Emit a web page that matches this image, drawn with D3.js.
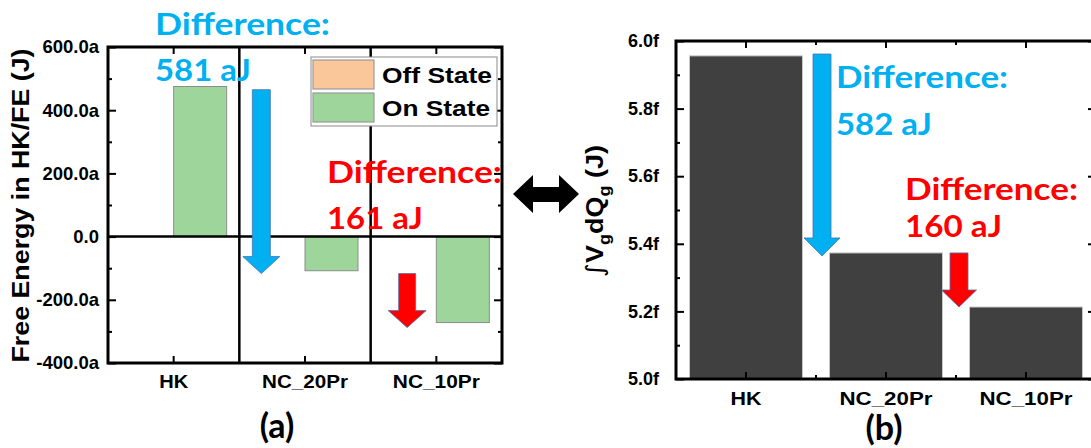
<!DOCTYPE html>
<html><head><meta charset="utf-8">
<script src="https://cdn.jsdelivr.net/npm/d3@7"></script>
<style>
html,body{margin:0;padding:0;background:#fff;}
svg{display:block;}
text{font-family:"Liberation Sans",Arial,sans-serif;font-weight:bold;}
.cal{font-family:Lato,"Open Sans",sans-serif;font-weight:bold;}
</style></head>
<body>
<svg id="chart" width="1091" height="448"></svg>
<script>
// ---------- data ----------
const categories = ["HK", "NC_20Pr", "NC_10Pr"];
const seriesNames = ["Off State", "On State"];
const offState = [0, 0, 0];
const onState = [475, -108, -272];
const leftTicks = [-400, -200, 0, 200, 400, 600];
const leftTickLabels = ["-400.0a", "-200.0a", "0.0", "200.0a", "400.0a", "600.0a"];
const gateEnergy = [5.956, 5.373, 5.213];
const rightTicks = [5.0, 5.2, 5.4, 5.6, 5.8, 6.0];
const rightTickLabels = ["5.0f", "5.2f", "5.4f", "5.6f", "5.8f", "6.0f"];
const leftDiffs = ["581 aJ", "161 aJ"];
const rightDiffs = ["582 aJ", "160 aJ"];
const leftArrowFrom = [465, -117];
const leftArrowTo = [-117, -288];
const rightArrowFrom = [5.9615, 5.373];
const rightArrowTo = [5.364, 5.213];

const BLUE = "#00B0F0", RED = "#FF0000";
const svg = d3.select("#chart");

function fit(sel, w) { sel.attr("textLength", w).attr("lengthAdjust", "spacingAndGlyphs"); }

function arrow(g, xc, y1, y2, shaftW, headW, headH, fill) {
  const p = d3.path();
  const yh = y2 - headH;
  p.moveTo(xc - shaftW / 2, y1); p.lineTo(xc + shaftW / 2, y1);
  p.lineTo(xc + shaftW / 2, yh); p.lineTo(xc + headW / 2, yh);
  p.lineTo(xc, y2); p.lineTo(xc - headW / 2, yh);
  p.lineTo(xc - shaftW / 2, yh); p.closePath();
  g.append("path").attr("d", p.toString()).attr("fill", fill)
    .attr("stroke", "#4A72B0").attr("stroke-width", 0.8);
}

// ---------- panel (a) ----------
{
  const L = 108, R = 502, T = 47, B = 363;
  const y = d3.scaleLinear().domain([-400, 600]).range([B, T]);
  const x0 = d3.scaleBand().domain(categories).range([L, R]).paddingInner(0.193).paddingOuter(0.0965);
  const x1 = d3.scaleBand().domain(seriesNames).range([0, x0.bandwidth()]);
  const g = svg.append("g");
  const colors = { "Off State": "#F9C79A", "On State": "#9ED59B" };
  const rows = categories.map((c, i) => ({ c, vals: [{ s: "Off State", v: offState[i] }, { s: "On State", v: onState[i] }] }));
  const grp = g.selectAll("g.cat").data(rows).join("g").attr("transform", d => `translate(${x0(d.c)},0)`);
  grp.selectAll("rect").data(d => d.vals.filter(v => v.v !== 0)).join("rect")
    .attr("x", d => x1(d.s)).attr("width", x1.bandwidth())
    .attr("y", d => y(Math.max(0, d.v))).attr("height", d => Math.abs(y(d.v) - y(0)))
    .attr("fill", d => colors[d.s]).attr("stroke", "#8c8c8c").attr("stroke-width", 1);

  g.append("line").attr("x1", L).attr("x2", R).attr("y1", y(0)).attr("y2", y(0)).attr("stroke", "#000").attr("stroke-width", 2.5);
  categories.slice(1).forEach(c => {
    const bx = x0(c) - x0.step() * x0.paddingInner() / 2;
    g.append("line").attr("x1", bx).attr("x2", bx).attr("y1", T).attr("y2", B).attr("stroke", "#000").attr("stroke-width", 2.5);
  });

  const ax = g.append("g").attr("transform", `translate(${L},0)`)
    .call(d3.axisLeft(y).tickValues(leftTicks).tickFormat((d, i) => leftTickLabels[i]).tickSize(-8).tickPadding(9));
  ax.selectAll("text").style("font-size", "18.5px").attr("fill", "#000").attr("font-family", "Liberation Sans");
  g.append("g").attr("transform", `translate(${L},0)`).call(d3.axisLeft(y).tickValues(d3.range(-300, 600, 200)).tickFormat("").tickSize(-4));
  g.append("g").attr("transform", `translate(${R},0)`).call(d3.axisRight(y).tickValues(leftTicks).tickFormat("").tickSize(-8));
  g.append("g").attr("transform", `translate(${R},0)`).call(d3.axisRight(y).tickValues(d3.range(-300, 600, 200)).tickFormat("").tickSize(-4));
  g.append("g").attr("transform", `translate(0,${T})`).call(d3.axisTop(x0).tickFormat("").tickSize(-7));
  const bx = g.append("g").attr("transform", `translate(0,${B})`).call(d3.axisBottom(x0).tickSize(-7).tickPadding(12));
  const lw = { "HK": 29, "NC_20Pr": 86, "NC_10Pr": 87 };
  bx.selectAll("text").style("font-size", "19px").attr("fill", "#000").each(function (d) { fit(d3.select(this), lw[d]); });
  g.selectAll(".domain").remove();
  g.selectAll(".tick line").attr("stroke", "#000").attr("stroke-width", 2);
  g.append("rect").attr("x", L).attr("y", T).attr("width", R - L).attr("height", B - T)
    .attr("fill", "none").attr("stroke", "#000").attr("stroke-width", 3);

  const yt = g.append("text").attr("transform", `translate(29,${(T + B) / 2 + 0.5}) rotate(-90)`)
    .attr("text-anchor", "middle").style("font-size", "23.5px").text("Free Energy in HK/FE (J)");
  fit(yt, 314);

  const lg = g.append("g");
  lg.append("rect").attr("x", 311).attr("y", 57).attr("width", 186).attr("height", 69).attr("fill", "#fff").attr("stroke", "#8a8a8a").attr("stroke-width", 1);
  seriesNames.forEach((s, i) => {
    lg.append("rect").attr("x", 313).attr("y", 60 + i * 33).attr("width", 61).attr("height", 29)
      .attr("fill", colors[s]).attr("stroke", "#999").attr("stroke-width", 1.2);
    const t = lg.append("text").attr("x", 382).attr("y", 83 + i * 33).style("font-size", "22.5px").text(s);
    fit(t, i === 0 ? 110 : 108);
  });

  const axc = [x0("NC_20Pr") - x0.step() * x0.paddingInner() / 2 + 22, x0("NC_10Pr") - x0.step() * x0.paddingInner() / 2 + 36.5];
  arrow(g, axc[0], y(leftArrowFrom[0]), y(leftArrowTo[0]), 18, 37, 17, BLUE);
  arrow(g, axc[1], y(leftArrowFrom[1]), y(leftArrowTo[1]), 17, 38, 17, RED);

  const t1 = g.append("text").attr("class", "cal").attr("x", 155).attr("y", 35).attr("fill", BLUE).style("font-size", "30px").text("Difference:"); fit(t1, 175);
  const t2 = g.append("text").attr("class", "cal").attr("x", 155).attr("y", 81).attr("fill", BLUE).style("font-size", "30px").text(leftDiffs[0]); fit(t2, 96);
  const t3 = g.append("text").attr("class", "cal").attr("x", 327).attr("y", 183).attr("fill", RED).style("font-size", "30px").text("Difference:"); fit(t3, 175);
  const t4 = g.append("text").attr("class", "cal").attr("x", 327).attr("y", 229).attr("fill", RED).style("font-size", "30px").text(leftDiffs[1]); fit(t4, 96);

  g.append("text").attr("class", "cal").attr("x", 277).attr("y", 438).attr("text-anchor", "middle").style("font-size", "34px").text("(a)");
}

// ---------- double arrow ----------
{
  const pts = [[513, 194], [533, 175], [533, 187], [559, 187], [559, 175], [579, 194], [559, 213], [559, 202], [533, 202], [533, 213]];
  svg.append("polygon").attr("points", pts.map(p => p.join(",")).join(" ")).attr("fill", "#000");
}

// ---------- panel (b) ----------
{
  const L = 676, R = 1096, T = 41, B = 379;
  const y = d3.scaleLinear().domain([5.0, 6.0]).range([B, T]);
  const x = d3.scaleBand().domain(categories).range([L, R]).paddingInner(0.193).paddingOuter(0.0965);
  const g = svg.append("g");
  g.selectAll("rect.bar").data(categories.map((c, i) => ({ c, v: gateEnergy[i] }))).join("rect").attr("class", "bar")
    .attr("x", d => x(d.c)).attr("width", x.bandwidth()).attr("y", d => y(d.v)).attr("height", d => y(5.0) - y(d.v))
    .attr("fill", "#404040").attr("stroke", "#c8c8c8").attr("stroke-width", 1);

  const minorY = d3.range(5.1, 6.0, 0.2);
  const ax = g.append("g").attr("transform", `translate(${L},0)`)
    .call(d3.axisLeft(y).tickValues(rightTicks).tickFormat((d, i) => rightTickLabels[i]).tickSize(-8).tickPadding(17));
  ax.selectAll("text").style("font-size", "18px").attr("fill", "#000");
  g.append("g").attr("transform", `translate(${L},0)`).call(d3.axisLeft(y).tickValues(minorY).tickFormat("").tickSize(-4));
  g.append("g").attr("transform", `translate(${R},0)`).call(d3.axisRight(y).tickValues(rightTicks).tickFormat("").tickSize(-8));
  g.append("g").attr("transform", `translate(${R},0)`).call(d3.axisRight(y).tickValues(minorY).tickFormat("").tickSize(-4));
  g.append("g").attr("transform", `translate(0,${T})`).call(d3.axisTop(x).tickFormat("").tickSize(-7));
  const bnds = categories.slice(1).map(c => x(c) - x.step() * x.paddingInner() / 2);
  bnds.forEach(b => {
    g.append("line").attr("x1", b).attr("x2", b).attr("y1", T).attr("y2", T + 4).attr("stroke", "#000").attr("stroke-width", 2);
    g.append("line").attr("x1", b).attr("x2", b).attr("y1", B).attr("y2", B - 4).attr("stroke", "#000").attr("stroke-width", 2);
  });
  const bx = g.append("g").attr("transform", `translate(0,${B})`).call(d3.axisBottom(x).tickSize(-7).tickPadding(13));
  const rw = { "HK": 31, "NC_20Pr": 93, "NC_10Pr": 93 };
  bx.selectAll("text").style("font-size", "19px").attr("fill", "#000").each(function (d) { fit(d3.select(this), rw[d]); });
  g.selectAll(".domain").remove();
  g.selectAll(".tick line").attr("stroke", "#000").attr("stroke-width", 2);
  g.append("rect").attr("x", L).attr("y", T).attr("width", R - L).attr("height", B - T)
    .attr("fill", "none").attr("stroke", "#000").attr("stroke-width", 3);

  const yt = g.append("text").attr("transform", `translate(603,${(T + B) / 2 + 1}) rotate(-90)`)
    .attr("text-anchor", "middle").style("font-size", "24px");
  yt.append("tspan").style("font-family", "DejaVu Sans").style("font-weight", "normal").text("∫");
  yt.append("tspan").text("V");
  yt.append("tspan").attr("dy", 7).style("font-size", "16px").text("g");
  yt.append("tspan").attr("dy", -7).text("dQ");
  yt.append("tspan").attr("dy", 7).style("font-size", "16px").text("g");
  yt.append("tspan").attr("dy", -7).text(" (J)");
  fit(yt, 132);

  arrow(g, bnds[0] + 6, y(rightArrowFrom[0]), y(rightArrowTo[0]), 18, 36, 18, BLUE);
  arrow(g, bnds[1] + 3, y(rightArrowFrom[1]), y(rightArrowTo[1]), 18, 35, 17, RED);

  const t1 = g.append("text").attr("class", "cal").attr("x", 836).attr("y", 88).attr("fill", BLUE).style("font-size", "30px").text("Difference:"); fit(t1, 172);
  const t2 = g.append("text").attr("class", "cal").attr("x", 836).attr("y", 135).attr("fill", BLUE).style("font-size", "30px").text(rightDiffs[0]); fit(t2, 96);
  const t3 = g.append("text").attr("class", "cal").attr("x", 905).attr("y", 200).attr("fill", RED).style("font-size", "30px").text("Difference:"); fit(t3, 173);
  const t4 = g.append("text").attr("class", "cal").attr("x", 905).attr("y", 237).attr("fill", RED).style("font-size", "30px").text(rightDiffs[1]); fit(t4, 97);

  g.append("text").attr("class", "cal").attr("x", 884).attr("y", 440).attr("text-anchor", "middle").style("font-size", "34px").text("(b)");
}
</script>
</body></html>
